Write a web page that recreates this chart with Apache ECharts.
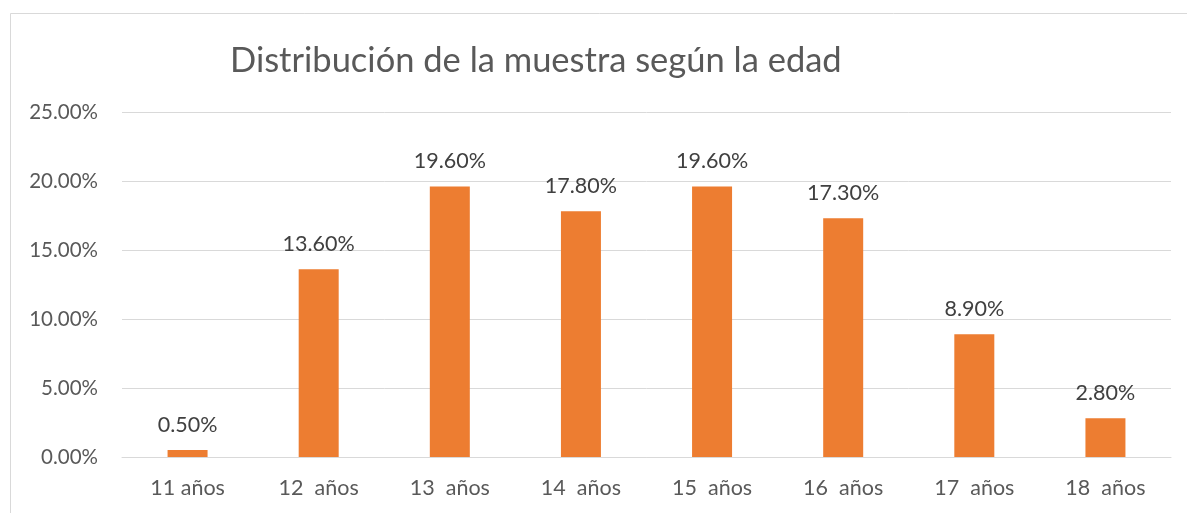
<!DOCTYPE html>
<html>
<head>
<meta charset="utf-8">
<script src="https://cdn.jsdelivr.net/npm/echarts@6/dist/echarts.min.js"></script>
<style>
html,body{margin:0;padding:0;background:#fff;}
#chart{width:1187px;height:513px;}
</style>
</head>
<body>
<div id="chart"></div>
<script>
const chartTitle = 'Distribución de la muestra según la edad';
const categories = ['11 años', '12  años', '13  años', '14  años', '15  años', '16  años', '17  años', '18  años'];
const percentages = [0.5, 13.6, 19.6, 17.8, 19.6, 17.3, 8.9, 2.8];
const yTicks = { min: 0, max: 25, interval: 5 };

const FONT = 'Lato';
const chart = echarts.init(document.getElementById('chart'), null, { renderer: 'canvas' });
chart.setOption({
  animation: false,
  backgroundColor: '#ffffff',
  title: {
    text: chartTitle,
    left: 225,
    top: 38,
    textStyle: { fontFamily: FONT, fontSize: 34.5, fontWeight: 'normal', color: '#595959' }
  },
  graphic: [{
    type: 'rect',
    shape: { x: 10.5, y: 13.5, width: 1200, height: 520 },
    style: { fill: 'none', stroke: '#d9d9d9', lineWidth: 1 },
    silent: true,
    z: -1
  }],
  grid: { left: 122, right: 16, top: 112, bottom: 56, containLabel: false },
  xAxis: {
    type: 'category',
    data: categories,
    axisLine: { show: true, lineStyle: { color: '#d9d9d9', width: 1 } },
    axisTick: { show: false },
    axisLabel: { color: '#595959', fontFamily: FONT, fontSize: 21.5, margin: 20 }
  },
  yAxis: {
    type: 'value',
    min: yTicks.min,
    max: yTicks.max,
    interval: yTicks.interval,
    axisLine: { show: false },
    axisTick: { show: false },
    splitLine: { lineStyle: { color: '#d9d9d9', width: 1 } },
    axisLabel: {
      color: '#595959', fontFamily: FONT, fontSize: 20.5, margin: 24,
      formatter: v => v.toFixed(2) + '%'
    }
  },
  series: [{
    type: 'bar',
    data: percentages,
    barWidth: 40,
    itemStyle: { color: '#ED7D31' },
    label: {
      show: true,
      position: 'top',
      distance: 14,
      color: '#404040',
      fontFamily: FONT,
      fontSize: 21.5,
      formatter: p => p.value.toFixed(2) + '%'
    }
  }]
});
</script>
</body>
</html>
